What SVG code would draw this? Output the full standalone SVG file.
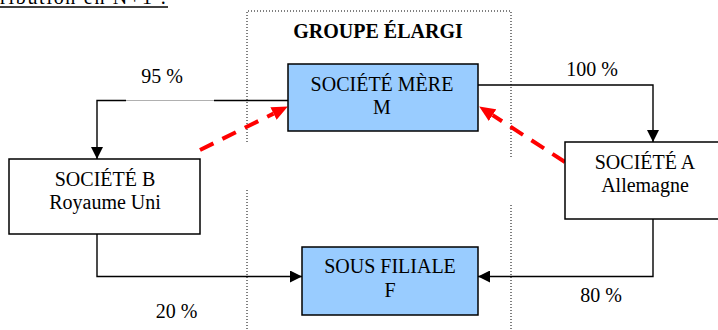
<svg xmlns="http://www.w3.org/2000/svg" width="718" height="330" viewBox="0 0 718 330">
  <style>
    text { font-family: "Liberation Serif", "Times New Roman", serif; font-size: 20px; fill: #000; }
    .c { text-anchor: middle; }
    .b { font-weight: bold; }
    .box { stroke: #000; stroke-width: 1.5; }
    .blue { fill: #99CCFF; }
    .white { fill: #fff; }
    .link { fill: none; stroke: #000; stroke-width: 1.4; }
    .dash { fill: none; stroke: #FF0000; stroke-width: 4; stroke-dasharray: 15 10; }
    .dot { fill: none; stroke: #000; stroke-width: 1; stroke-dasharray: 1 2; }
  </style>
  <defs>
    <marker id="arrow" markerUnits="userSpaceOnUse" markerWidth="12" markerHeight="12" refX="12" refY="6" orient="auto">
      <path d="M0,0 L12,6 L0,12 z" fill="#000"/>
    </marker>
    <marker id="redArrow" markerUnits="userSpaceOnUse" markerWidth="16" markerHeight="14" refX="0" refY="7" orient="auto">
      <path d="M0,0 L16,7 L0,14 z" fill="#FF0000"/>
    </marker>
  </defs>

  <rect width="718" height="330" fill="#fff"/>

  <!-- heading, cut at the top edge -->
  <g id="heading">
    <text x="0" y="4" font-size="22" textLength="166" lengthAdjust="spacing">ribution en N+1 :</text>
    <line x1="0" y1="7" x2="168" y2="7" stroke="#000" stroke-width="1.5"/>
  </g>

  <!-- dotted frame of the enlarged group -->
  <g id="groupe-elargi">
    <path class="dot" d="M247,142 V11 H511 V158"/>
    <path class="dot" d="M247,190 V330"/>
    <path class="dot" d="M511,205 V330"/>
    <text class="c b" x="378" y="38">GROUPE ÉLARGI</text>
  </g>

  <!-- connectors -->
  <g id="connectors">
    <path class="link" d="M288,100.5 H214"/>
    <line x1="126" y1="100.5" x2="214" y2="100.5" stroke="#b0b0b0" stroke-width="1"/>
    <path class="link" d="M126,100.5 H97 V159" marker-end="url(#arrow)"/>
    <path class="link" d="M478,85 H653 V142" marker-end="url(#arrow)"/>
    <path class="link" d="M97,233 V276.5 H302" marker-end="url(#arrow)"/>
    <path class="link" d="M653,219 V276.5 H478" marker-end="url(#arrow)"/>
    <line class="dash" x1="200" y1="150" x2="273.5" y2="113.6" marker-end="url(#redArrow)"/>
    <line class="dash" x1="565" y1="162" x2="492.6" y2="115.1" marker-end="url(#redArrow)"/>
    <text class="c" x="162" y="83">95 %</text>
    <text class="c" x="592" y="76">100 %</text>
    <text class="c" x="176.5" y="318">20 %</text>
    <text class="c" x="601" y="302">80 %</text>
  </g>

  <g id="societe-mere">
    <rect class="box blue" x="288" y="64" width="190" height="67"/>
    <text class="c" x="382" y="91">SOCIÉTÉ MÈRE</text>
    <text class="c" x="382" y="114">M</text>
  </g>

  <g id="societe-b">
    <rect class="box white" x="9" y="159" width="191" height="75"/>
    <text class="c" x="105" y="186">SOCIÉTÉ B</text>
    <text class="c" x="105" y="209">Royaume Uni</text>
  </g>

  <g id="societe-a">
    <rect class="box white" x="565" y="142" width="160" height="77"/>
    <text class="c" x="645" y="169">SOCIÉTÉ A</text>
    <text class="c" x="645" y="192">Allemagne</text>
  </g>

  <g id="sous-filiale">
    <rect class="box blue" x="302" y="247" width="176" height="68"/>
    <text class="c" x="390" y="273">SOUS FILIALE</text>
    <text class="c" x="390" y="297">F</text>
  </g>
</svg>
